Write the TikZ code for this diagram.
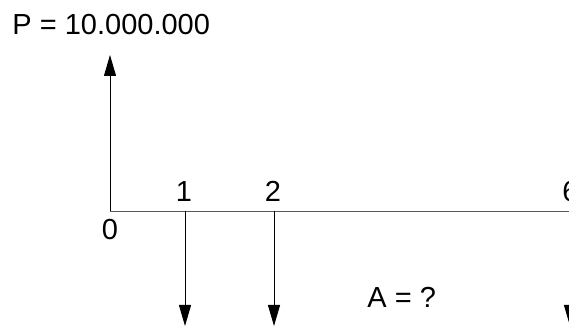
\documentclass[tikz,border=0pt]{standalone}
\usepackage{fontspec}
\setmainfont{Liberation Sans}
\usetikzlibrary{arrows.meta}
\begin{document}
\begin{tikzpicture}[x=1pt, y=1pt, line width=0.9pt,
    >={Triangle[length=21pt,width=12pt]},
    every node/.style={font=\fontsize{29}{34}\selectfont, inner sep=0pt}]
    \useasboundingbox (0,0) rectangle (569,326);
    \clip (0,0) rectangle (569,326);

    \coordinate (t0) at (110,115);
    \coordinate (t1) at (185,115);
    \coordinate (t2) at (274,115);
    \coordinate (t6) at (570,115);
    \coordinate (tend) at (580,115);
    \coordinate (ptop) at (110,271);
    \coordinate (a1) at (185,0);
    \coordinate (a2) at (274,0);
    \coordinate (a6) at (570,0);

    \node[anchor=base west] (p) at (12,291) {P = 10.000.000};
    \node[anchor=base] (zero) at (110,86) {0};
    \node[anchor=base] (one) at (184,124) {1};
    \node[anchor=base] (two) at (273,124) {2};
    \node[anchor=base west] (six) at (562,124) {6};
    \node[anchor=base west] (ann) at (367,19) {A = ?};

    \draw[black!65] (t0) -- (tend);
    \draw[->] (t0) -- (ptop);
    \draw[->] (t1) -- (a1);
    \draw[->] (t2) -- (a2);
    \draw[->] (t6) -- (a6);
\end{tikzpicture}
\end{document}
